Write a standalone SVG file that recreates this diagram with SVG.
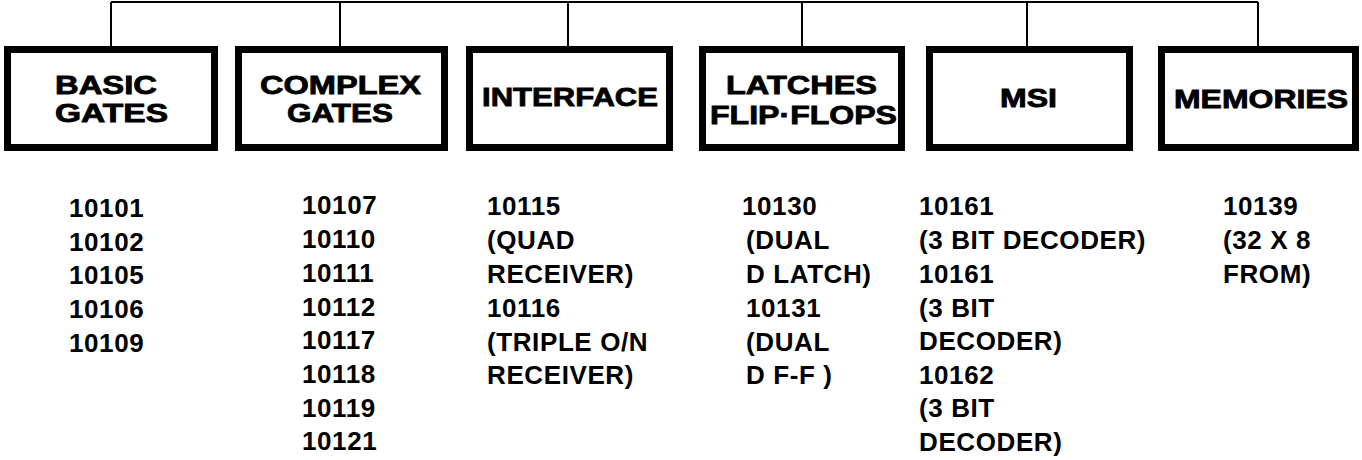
<svg xmlns="http://www.w3.org/2000/svg" width="1362" height="460" viewBox="0 0 1362 460">
<style>
.box{fill:#fff;stroke:#000;stroke-width:7}
.conn{stroke:#000;stroke-width:2;fill:none}
.t{font-family:"Liberation Sans",Arial,sans-serif;font-weight:bold;font-size:25px;fill:#000;stroke:#000;stroke-width:0.8px}
.l{font-family:"Liberation Sans",Arial,sans-serif;font-weight:bold;font-size:26px;fill:#000;letter-spacing:0.6px}
</style>
<rect width="1362" height="460" fill="#fff"/>
<g id="connectors">
<path class="conn" d="M111 2H1258M111 2V46M340 2V46M568 2V46M802 2V46M1027 2V46M1258 2V46"/>
</g>
<g id="basic">
<rect class="box" x="7.5" y="49.5" width="207" height="98"/>
<text class="t" x="55" y="94" textLength="102" lengthAdjust="spacingAndGlyphs">BASIC</text>
<text class="t" x="55" y="122" textLength="113" lengthAdjust="spacingAndGlyphs">GATES</text>
<text class="l" x="69" y="217">10101</text>
<text class="l" x="69" y="251">10102</text>
<text class="l" x="69" y="284">10105</text>
<text class="l" x="69" y="318">10106</text>
<text class="l" x="69" y="352">10109</text>
</g>
<g id="complex">
<rect class="box" x="238.5" y="49.5" width="206" height="98"/>
<text class="t" x="260" y="94" textLength="161" lengthAdjust="spacingAndGlyphs">COMPLEX</text>
<text class="t" x="287" y="122" textLength="106" lengthAdjust="spacingAndGlyphs">GATES</text>
<text class="l" x="302" y="214">10107</text>
<text class="l" x="302" y="248">10110</text>
<text class="l" x="302" y="282">10111</text>
<text class="l" x="302" y="316">10112</text>
<text class="l" x="302" y="349">10117</text>
<text class="l" x="302" y="383">10118</text>
<text class="l" x="302" y="417">10119</text>
<text class="l" x="302" y="450">10121</text>
</g>
<g id="interface">
<rect class="box" x="469.5" y="49.5" width="200" height="98"/>
<text class="t" x="482" y="106" textLength="176" lengthAdjust="spacingAndGlyphs">INTERFACE</text>
<text class="l" x="487" y="215">10115</text>
<text class="l" x="487" y="249">(QUAD</text>
<text class="l" x="487" y="283">RECEIVER)</text>
<text class="l" x="487" y="317">10116</text>
<text class="l" x="487" y="351">(TRIPLE O/N</text>
<text class="l" x="487" y="384">RECEIVER)</text>
</g>
<g id="latches">
<rect class="box" x="702.5" y="49.5" width="199" height="98"/>
<text class="t" x="726" y="94" textLength="151" lengthAdjust="spacingAndGlyphs">LATCHES</text>
<text class="t" x="710" y="124" textLength="187" lengthAdjust="spacingAndGlyphs">FLIP·FLOPS</text>
<text class="l" x="742" y="215">10130</text>
<text class="l" x="746" y="249">(DUAL</text>
<text class="l" x="746" y="283">D LATCH)</text>
<text class="l" x="746" y="317">10131</text>
<text class="l" x="746" y="351">(DUAL</text>
<text class="l" x="746" y="384">D F-F )</text>
</g>
<g id="msi">
<rect class="box" x="929.5" y="49.5" width="200" height="98"/>
<text class="t" x="1000" y="107" textLength="57" lengthAdjust="spacingAndGlyphs">MSI</text>
<text class="l" x="919" y="215">10161</text>
<text class="l" x="919" y="249">(3 BIT DECODER)</text>
<text class="l" x="919" y="283">10161</text>
<text class="l" x="919" y="317">(3 BIT</text>
<text class="l" x="919" y="350">DECODER)</text>
<text class="l" x="919" y="384">10162</text>
<text class="l" x="919" y="417">(3 BIT</text>
<text class="l" x="919" y="451">DECODER)</text>
</g>
<g id="memories">
<rect class="box" x="1161.5" y="49.5" width="194" height="98"/>
<text class="t" x="1174" y="108" textLength="174" lengthAdjust="spacingAndGlyphs">MEMORIES</text>
<text class="l" x="1223" y="215">10139</text>
<text class="l" x="1223" y="249">(32 X 8</text>
<text class="l" x="1223" y="283">FROM)</text>
</g>
</svg>
